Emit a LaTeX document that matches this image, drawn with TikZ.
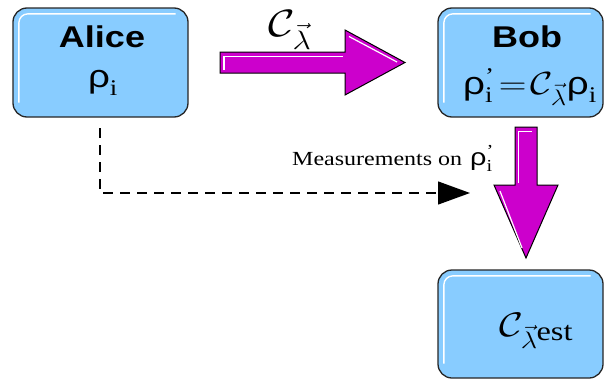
\RequirePackage{fix-cm}
\documentclass[tikz,border=0pt]{standalone}
\usepackage{amsmath}
\usepackage{graphicx}
\usepackage{fontspec}
\setmainfont{Liberation Serif}
\newfontfamily\hv{Liberation Sans}
\usetikzlibrary{arrows.meta}
\definecolor{boxblue}{RGB}{136,204,255}
\definecolor{mag}{RGB}{204,0,204}
\newcommand{\sx}[1]{\scalebox{1.2}[1]{#1}}
\newcommand{\rh}{\text{\hv ρ}}
\begin{document}
\begin{tikzpicture}[x=1pt,y=-1pt,
  box/.style={draw=black!85, line width=1.3pt, fill=boxblue, rounded corners=14pt, inner sep=0pt},
  hilite/.style={draw=white, line width=1.4pt, rounded corners=9pt},
  fatarrow/.style={draw=black, line width=1pt, fill=mag, line join=miter},
  title/.style={font=\fontsize{30}{32}\selectfont\hv\bfseries, inner sep=0pt},
  formula/.style={font=\fontsize{32}{34}\selectfont, inner sep=0pt}]
\useasboundingbox (0,0) rectangle (605,380);
% boxes
\node[box, minimum width=175pt, minimum height=109pt] (alice) at (100.5,62.5) {};
\node[box, minimum width=165pt, minimum height=109pt] (bob) at (520.5,62.5) {};
\node[box, minimum width=165pt, minimum height=108pt] (est) at (520.5,324) {};
% highlights
\foreach \b in {alice,bob,est}{
  \draw[hilite] ([shift={(6.5pt,15pt)}]\b.south west) -- ([shift={(6.5pt,-6.5pt)}]\b.north west) -- ([shift={(-13pt,-6.5pt)}]\b.north east);
}
% texts
\node[title] (alicet) at (102,37) {\sx{Alice}};
\node[formula] (alicef) at (103,83) {\sx{$\rh_{\text{i}}$}};
\node[title] (bobt) at (527,37) {\sx{Bob}};
\node[formula] (bobf) at (530,87) {\sx{$\rh^{\text{’}}_{\text{i}}\!=\!\mathcal{C}_{\vec\lambda}\rh_{\text{i}}$}};
\node[font=\fontsize{34}{36}\selectfont, inner sep=0pt] (estf) at (536,331) {\sx{$\mathcal{C}_{\vec\lambda}$\kern-1pt\raisebox{-0.25ex}{\fontsize{27}{30}\selectfont est}}};
% horizontal fat arrow
\coordinate (h1) at (220,52);
\draw[fatarrow] (h1) -- (345,52) -- (345,30) -- (405,62.5) -- (345,95) -- (345,73) -- (220,73) -- cycle;
\draw[draw=white, line width=1.2pt] (224,70) -- (224,56.5) -- (343,56.5);
\draw[draw=white, line width=1.2pt] (349,36.5) -- (397,62);
\node[font=\fontsize{38}{40}\selectfont, inner sep=0pt] (clab) at (290,30) {\sx{$\mathcal{C}_{\vec\lambda}$}};
% vertical fat arrow
\draw[fatarrow] (515,127) -- (537,127) -- (537,185) -- (558,185) -- (526,258) -- (494,185) -- (515,185) -- cycle;
\draw[draw=white, line width=1.2pt] (518.5,183) -- (518.5,131.5) -- (532,131.5);
\draw[draw=white, line width=1.2pt] (500,191) -- (522,248);
% dashed measurement arrow
\coordinate (d0) at (100,128);
\coordinate (d1) at (100,193);
\coordinate (d2) at (470,193);
\draw[line width=1.3pt, dash pattern=on 10pt off 7pt, -{Triangle[length=32pt,width=23pt]}] (d0) -- (d1) -- (d2);
\node[font=\fontsize{20}{22}\selectfont, inner sep=0pt, anchor=base west] (mlab) at (292,165) {\sx{Measurements on}};
\node[font=\fontsize{24}{26}\selectfont, inner sep=0pt, anchor=base west] (mrho) at (470,165) {\sx{$\rh^{\text{’}}_{\text{i}}$}};
\end{tikzpicture}
\end{document}
